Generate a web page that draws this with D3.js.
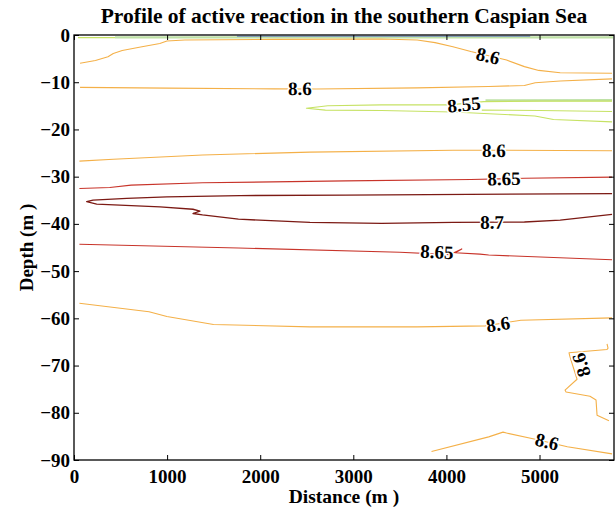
<!DOCTYPE html>
<html>
<head>
<meta charset="utf-8">
<script src="https://cdn.jsdelivr.net/npm/d3@7"></script>
<style>
  html, body { margin: 0; padding: 0; background: #fff; }
  svg { display: block; }
  text { font-family: "Liberation Serif", "Times New Roman", serif; font-weight: bold; fill: #000; }
</style>
</head>
<body>
<svg id="chart" width="616" height="515"></svg>
<script>
// Axis ticks
const xTicks = [0, 1000, 2000, 3000, 4000, 5000];
const yTicks = [0, -10, -20, -30, -40, -50, -60, -70, -80, -90];

// pH levels and their colours
const levels = [8.45, 8.5, 8.55, 8.6, 8.65, 8.7];
const levelColors = ["#6a86b8", "#b4dc96", "#c6e264", "#f4b048", "#c8342a", "#7c1a14"];

// Isolines as [distance (m), depth (m)]
const iso845Surface = [[1750, -0.25], [4900, -0.25]];
const iso850Surface = [[440, -0.5], [5790, -0.5]];
const iso855Surface = [[43, -0.55], [440, -0.55]];
const iso860Top = [[65, -6.0], [230, -5.4], [365, -4.6], [422, -3.9], [518, -3.3], [730, -2.5], [922, -1.8], [998, -1.27], [1190, -1.06], [2150, -0.92], [3302, -0.85], [3686, -1.06], [3878, -1.62], [4070, -2.5], [4262, -3.5], [4454, -4.4], [4646, -5.3], [4838, -6.7], [4992, -7.5], [5222, -8.0], [5779, -8.1]];
const iso860Upper = [[65, -11.1], [1000, -11.25], [2150, -11.4], [2600, -11.45], [3686, -11.2], [4454, -10.9], [4838, -10.7], [4954, -10.1], [5222, -9.75], [5779, -9.3]];
const iso855Loop = [[5779, -14.0], [5000, -14.0], [4400, -14.1], [4030, -14.8], [3302, -14.8], [2726, -14.97], [2496, -15.5], [2700, -15.9], [3302, -16.0], [4070, -16.3], [4950, -17.15], [5150, -17.9], [5779, -18.4]];
const iso855Inner = [[4380, -15.9], [5000, -16.0], [5779, -16.2]];
const iso850Inner = [[5779, -13.8], [4420, -13.85]];
const iso860Mid = [[58, -26.7], [422, -26.3], [1382, -25.4], [2534, -24.8], [4070, -24.4], [4600, -24.4], [5779, -24.5]];
const iso865Upper = [[58, -32.5], [384, -32.3], [614, -31.8], [1382, -31.3], [2918, -30.9], [4262, -30.6], [4838, -30.35], [5779, -30.1]];
const iso870 = [[5779, -33.6], [2918, -33.9], [1783, -34.0], [998, -34.3], [566, -34.6], [204, -34.95], [136, -35.3], [244, -35.8], [924, -36.4], [1278, -36.9], [1353, -37.3], [1278, -37.8], [1380, -38.1], [1766, -39.0], [2534, -39.7], [3302, -39.9], [4070, -39.7], [4838, -39.6], [5222, -39.2], [5779, -38.0]];
const iso865Lower = [[58, -44.3], [1766, -45.1], [3500, -46.0], [4040, -46.5], [4165, -45.3], [4095, -46.1], [4360, -46.4], [4454, -46.6], [5779, -47.6]];
const iso860Lower = [[58, -56.8], [806, -58.6], [998, -59.6], [1498, -61.3], [2534, -61.8], [3686, -61.8], [4416, -61.6], [4800, -60.4], [5779, -59.9]];
const iso860Edge = [[5725, -65.4], [5736, -66.3], [5725, -66.6], [5317, -67.3], [5328, -68.2], [5403, -72.9], [5274, -75.2], [5285, -75.6], [5542, -76.5], [5607, -77.3], [5618, -80.5], [5746, -81.7]];
const iso860Bottom = [[3840, -88.2], [4454, -85.1], [4608, -84.1], [4646, -84.3], [4954, -85.6], [5299, -87.2], [5779, -88.7]];

// Contour labels: text, anchor [distance, depth] and the isoline they sit on
const labelText = ["8.6", "8.6", "8.55", "8.6", "8.65", "8.7", "8.65", "8.6", "8.6", "8.6"];
const labelAt = [[4447, -4.4], [2427, -11.3], [4189, -14.7], [4511, -24.4], [4619, -30.4], [4490, -39.6], [3899, -45.9], [4554, -61.2], [5446, -69.9], [5080, -86.1]];
const labelLine = [iso860Top, iso860Upper, iso855Loop, iso860Mid, iso865Upper, iso870, iso865Lower, iso860Lower, iso860Edge, iso860Bottom];

const isolines = [
  { level: 8.5, pts: iso850Surface },
  { level: 8.55, pts: iso855Surface },
  { level: 8.45, pts: iso845Surface },
  { level: 8.6, pts: iso860Top },
  { level: 8.6, pts: iso860Upper },
  { level: 8.5, pts: iso850Inner },
  { level: 8.55, pts: iso855Loop },
  { level: 8.55, pts: iso855Inner },
  { level: 8.6, pts: iso860Mid },
  { level: 8.65, pts: iso865Upper },
  { level: 8.7, pts: iso870 },
  { level: 8.65, pts: iso865Lower },
  { level: 8.6, pts: iso860Lower },
  { level: 8.6, pts: iso860Edge },
  { level: 8.6, pts: iso860Bottom }
];

const svg = d3.select("#chart");
const W = 616, H = 515;
const plot = { left: 74, right: 614, top: 35, bottom: 460 };

const x = d3.scaleLinear().domain([0, 5800]).range([plot.left, plot.right]);
const y = d3.scaleLinear().domain([-90, 0]).range([plot.bottom, plot.top]);
const color = d3.scaleOrdinal().domain(levels).range(levelColors);

svg.append("rect").attr("width", W).attr("height", H).attr("fill", "#fff");

// Isolines
const line = d3.line().x(d => x(d[0])).y(d => y(d[1]));
const widthFor = lv => lv === 8.5 ? 2.4 : (lv === 8.7 ? 1.3 : 1.1);
svg.append("g")
  .selectAll("path")
  .data(isolines)
  .join("path")
  .attr("d", d => line(d.pts))
  .attr("fill", "none")
  .attr("stroke", d => color(d.level))
  .attr("stroke-width", d => widthFor(d.level))
  .attr("stroke-opacity", d => d.level === 8.5 ? 0.85 : 1)
  .attr("stroke-linejoin", "round");

// Axes: inward ticks on all four sides
const fmt = d3.format("d");
const gx = svg.append("g")
  .attr("transform", `translate(0,${plot.bottom})`)
  .call(d3.axisBottom(x).tickValues(xTicks).tickSize(-5).tickPadding(10).tickFormat(fmt));
const gy = svg.append("g")
  .attr("transform", `translate(${plot.left},0)`)
  .call(d3.axisLeft(y).tickValues(yTicks).tickSize(-5).tickPadding(4).tickFormat(fmt));
const gt = svg.append("g")
  .attr("transform", `translate(0,${plot.top})`)
  .call(d3.axisTop(x).tickValues(xTicks).tickSize(-5).tickFormat(""));
const gr = svg.append("g")
  .attr("transform", `translate(${plot.right},0)`)
  .call(d3.axisRight(y).tickValues(yTicks).tickSize(-5).tickFormat(""));

[gx, gy, gt, gr].forEach(g => {
  g.attr("font-family", null).attr("font-size", 19);
  g.select(".domain").remove();
  g.selectAll(".tick line").attr("stroke", "#000").attr("stroke-width", 1);
});

// Frame
svg.append("rect")
  .attr("x", plot.left).attr("y", plot.top)
  .attr("width", plot.right - plot.left).attr("height", plot.bottom - plot.top)
  .attr("fill", "none").attr("stroke", "#000").attr("stroke-width", 1.3);

// Label orientation follows the local direction of its isoline
function labelAngle(pts, lx, ly) {
  const p = pts.map(d => [x(d[0]), y(d[1])]);
  const cum = [0];
  for (let i = 1; i < p.length; i++) cum.push(cum[i - 1] + Math.hypot(p[i][0] - p[i - 1][0], p[i][1] - p[i - 1][1]));
  // closest projection onto the polyline
  let best = Infinity, bestS = 0;
  for (let i = 1; i < p.length; i++) {
    const ax = p[i - 1][0], ay = p[i - 1][1], bx = p[i][0], by = p[i][1];
    const dx = bx - ax, dy = by - ay, len2 = dx * dx + dy * dy || 1;
    let t = ((lx - ax) * dx + (ly - ay) * dy) / len2;
    t = Math.max(0, Math.min(1, t));
    const px = ax + t * dx, py = ay + t * dy;
    const dd = Math.hypot(lx - px, ly - py);
    if (dd < best) { best = dd; bestS = cum[i - 1] + t * Math.sqrt(len2); }
  }
  const at = s => {
    s = Math.max(0, Math.min(cum[cum.length - 1], s));
    for (let i = 1; i < p.length; i++) {
      if (s <= cum[i]) {
        const seg = cum[i] - cum[i - 1] || 1, t = (s - cum[i - 1]) / seg;
        return [p[i - 1][0] + t * (p[i][0] - p[i - 1][0]), p[i - 1][1] + t * (p[i][1] - p[i - 1][1])];
      }
    }
    return p[p.length - 1];
  };
  const a = at(bestS - 12), b = at(bestS + 12);
  let ang = Math.atan2(b[1] - a[1], b[0] - a[0]) * 180 / Math.PI;
  // keep text upright; steep runs read bottom-to-top
  if (ang > 60) ang -= 180;
  if (ang <= -120) ang += 180;
  return ang;
}

svg.append("g")
  .selectAll("text")
  .data(labelText.map((t, i) => ({ t, pos: labelAt[i], pts: labelLine[i] })))
  .join("text")
  .attr("transform", d => {
    const lx = x(d.pos[0]), ly = y(d.pos[1]);
    return `translate(${lx},${ly}) rotate(${labelAngle(d.pts, lx, ly)})`;
  })
  .attr("text-anchor", "middle")
  .attr("dy", "0.35em")
  .attr("font-size", 19)
  .attr("stroke", "#fff").attr("stroke-width", 3).attr("paint-order", "stroke")
  .text(d => d.t);

// Titles
svg.append("text")
  .attr("x", (plot.left + plot.right) / 2).attr("y", 23)
  .attr("text-anchor", "middle").attr("font-size", 21.5)
  .text("Profile of active reaction in the southern Caspian Sea");

svg.append("text")
  .attr("x", (plot.left + plot.right) / 2).attr("y", 503)
  .attr("text-anchor", "middle").attr("font-size", 19.5)
  .text("Distance (m )");

svg.append("text")
  .attr("transform", `translate(33,${(plot.top + plot.bottom) / 2}) rotate(-90)`)
  .attr("text-anchor", "middle").attr("font-size", 19)
  .text("Depth (m )");
</script>
</body>
</html>
